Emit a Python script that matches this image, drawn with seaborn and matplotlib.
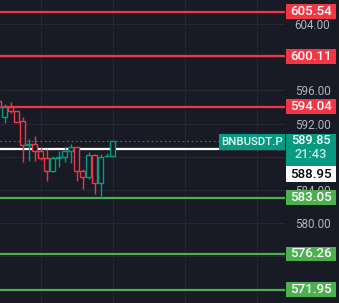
import numpy as np
import pandas as pd
import matplotlib
matplotlib.use("Agg")
import matplotlib.pyplot as plt
import matplotlib.transforms as mtransforms
from matplotlib.patches import Rectangle
import seaborn as sns

# ---------------- data ----------------
opens  = [594.73, 592.83, 594.04, 593.52, 592.31, 589.40, 589.54, 588.65, 587.81, 586.24,
          587.85, 587.93, 588.65, 589.14, 586.31, 585.51, 588.17, 584.86, 588.05, 588.05]
highs  = [595.00, 594.37, 594.61, 593.55, 592.83, 590.14, 590.50, 589.14, 588.93, 588.09,
          588.69, 589.14, 589.54, 589.16, 586.52, 588.57, 588.33, 588.33, 588.41, 589.90]
lows   = [593.50, 592.11, 593.32, 592.20, 587.40, 587.52, 587.52, 587.60, 585.10, 586.20,
          586.79, 587.40, 587.28, 585.10, 584.14, 585.34, 583.53, 582.98, 588.02, 588.02]
closes = [593.97, 593.97, 593.52, 592.23, 589.38, 589.54, 588.65, 587.81, 586.24, 587.81,
          587.95, 588.65, 589.14, 586.31, 585.51, 588.17, 584.86, 587.93, 588.09, 589.85]

resistance_levels = [605.54, 600.11, 594.04]
support_levels = [583.05, 576.26, 571.95]
last_price = 589.85
countdown = "21:43"
ref_price = 588.95
symbol = "BNBUSDT.P"
price_ticks = [572, 576, 580, 584, 588, 592, 596, 600, 604]
shown_tick_labels = ["", "", "580.00", "584.00", "", "592.00", "596.00", "", "604.00"]
time_grid = [7, 19, 31, 43]

# ---------------- style ----------------
BG = "#181b25"
GRID = "#252833"
RED = "#f23645"
GREEN = "#4caf50"
TEAL = "#089981"
TXT = "#b2b5be"

sns.set_theme(style="dark", rc={"axes.facecolor": BG, "figure.facecolor": BG})
plt.rcParams["font.family"] = ["Roboto", "DejaVu Sans"]

W, H = 339, 303
PANE = 285
fig = plt.figure(figsize=(W / 100, H / 100), dpi=100, facecolor=BG)
ax = fig.add_axes([0, 0, PANE / W, 1])
ax.set_facecolor(BG)
ylim = (570.33, 606.93)
ax.set_ylim(*ylim)
ax.set_xlim(0.25, 0.25 + PANE / 6)
dpu = (ylim[1] - ylim[0]) / H  # data units per pixel

df = pd.DataFrame({"o": opens, "h": highs, "l": lows, "c": closes})
df["idx"] = np.arange(len(df))
df["col"] = np.where(df["c"] >= df["o"], TEAL, RED)
df["bottom"] = df[["o", "c"]].min(axis=1)
df["height"] = (df["c"] - df["o"]).abs().clip(lower=0.08)

# grid
ax.set_yticks(price_ticks)
ax.set_xticks(time_grid)
ax.set_axisbelow(True)
ax.grid(True, color=GRID, lw=0.8)
for s in ax.spines.values():
    s.set_visible(False)
ax.yaxis.tick_right()
ax.tick_params(axis="x", length=0, labelbottom=False)
ax.tick_params(axis="y", length=0, pad=7, labelsize=8.4, labelcolor=TXT)
ax.set_yticklabels(shown_tick_labels)

# candles (hollow)
ax.vlines(df["idx"], df["l"], df["h"], colors=df["col"], lw=1.0, zorder=3)
ax.bar(df["idx"], df["height"], bottom=df["bottom"], width=0.72, color=BG,
       edgecolor=df["col"], linewidth=1.0, zorder=4)

# horizontal levels
for p in resistance_levels:
    ax.axhline(p, color=RED, lw=1.6, zorder=2)
for p in support_levels:
    ax.axhline(p, color=GREEN, lw=1.6, zorder=2)
ax.axhline(ref_price, color="white", lw=1.6, zorder=2)
ax.axhline(last_price, color=TEAL, lw=0.8, ls=(0, (1.4, 2.6)), zorder=2)

# symbol label in pane
bt = mtransforms.blended_transform_factory(ax.transAxes, ax.transData)
x0, x1 = 218.5 / PANE, 284.5 / PANE
hh = 16.5 * dpu
ax.add_patch(Rectangle((x0, last_price - hh / 2 - 0.7 * dpu), x1 - x0, hh, transform=bt,
                       fc=TEAL, ec="none", zorder=6, clip_on=False))
ax.text((x0 + x1) / 2, last_price - 0.7 * dpu, symbol, transform=bt, ha="center", va="center",
        color="#eef8f5", fontsize=8.2, fontweight="medium", zorder=7)

# price scale labels
ax2 = fig.add_axes([PANE / W, 0, 1 - PANE / W, 1])
ax2.set_facecolor("none")
ax2.set_ylim(*ylim)
ax2.set_xlim(0, W - PANE)
ax2.axis("off")
bx0, bw = 1, 49.5
bh = 14.5 * dpu
FS = 9.6


def level_box(price, label, fc, tc="white"):
    ax2.add_patch(Rectangle((bx0, price - bh / 2), bw, bh, fc=fc, ec="none", zorder=5))
    ax2.text(bx0 + bw / 2, price, label, ha="center", va="center", color=tc,
             fontsize=FS, fontweight="medium", zorder=6)


for p in resistance_levels:
    level_box(p, f"{p:.2f}", RED)
for p in support_levels:
    level_box(p, f"{p:.2f}", GREEN)

top = last_price + 7.5 * dpu
tb_h = 32.4 * dpu
ax2.add_patch(Rectangle((bx0, top - tb_h), bw, tb_h, fc=TEAL, ec="none", zorder=5))
ax2.text(bx0 + bw / 2, last_price + 0.8 * dpu, f"{last_price:.2f}", ha="center", va="center",
         color="white", fontsize=9.2, fontweight="medium", zorder=6)
ax2.text(bx0 + bw / 2, last_price - 13.2 * dpu, countdown, ha="center", va="center",
         color="#c8ece2", fontsize=9.2, fontweight="medium", zorder=6)
wb_top = top - tb_h
wb_h = 15.6 * dpu
ax2.add_patch(Rectangle((bx0, wb_top - wb_h), bw, wb_h, fc="white", ec="none", zorder=5))
ax2.text(bx0 + bw / 2, wb_top - wb_h / 2, f"{ref_price:.2f}", ha="center", va="center",
         color="black", fontsize=FS, fontweight="medium", zorder=6)

fig.savefig("out.png", dpi=100, facecolor=BG)
